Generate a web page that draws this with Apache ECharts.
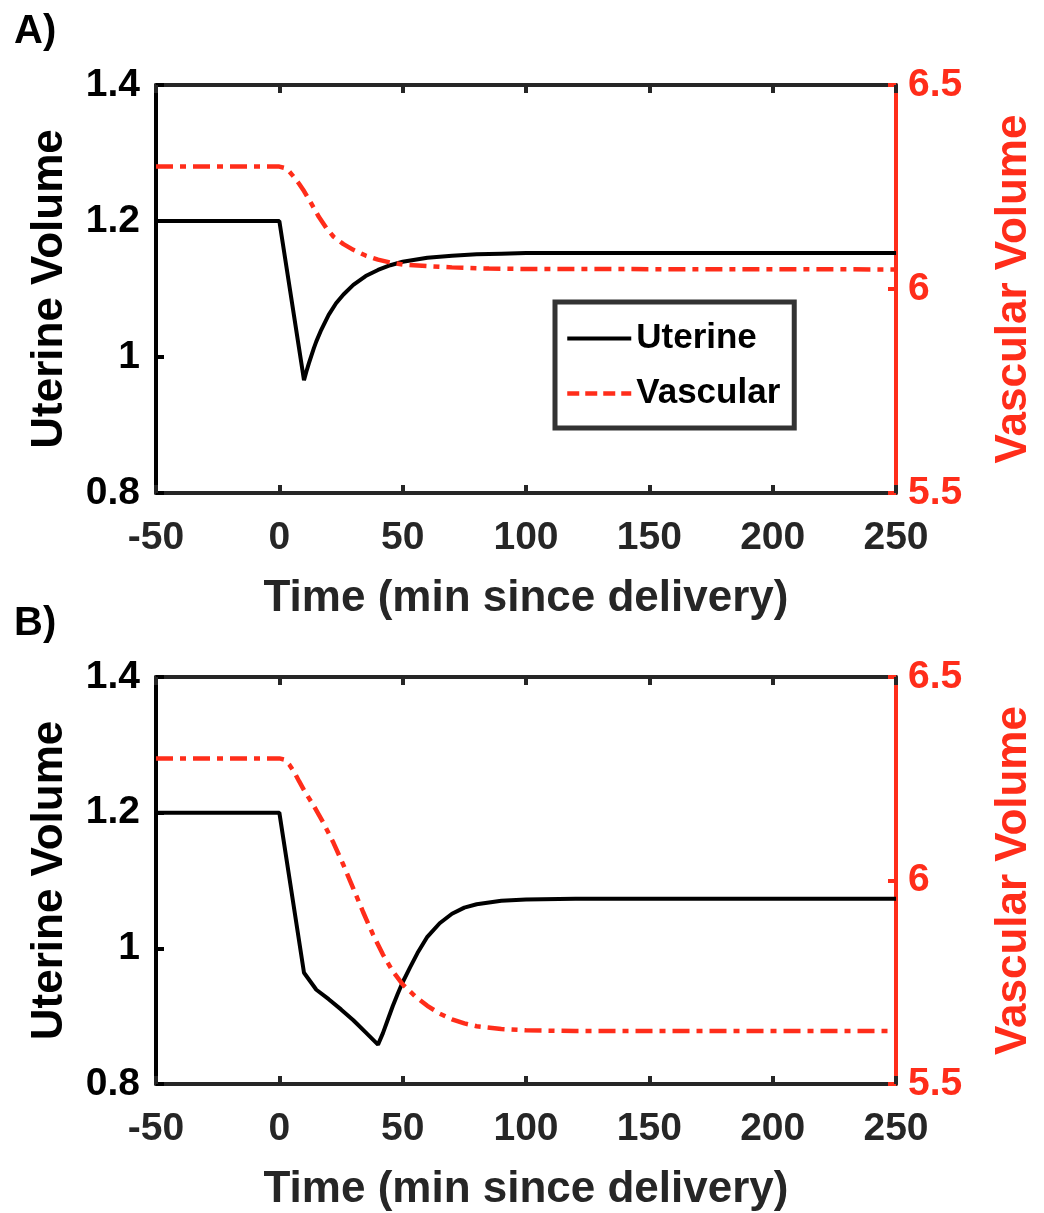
<!DOCTYPE html>
<html>
<head>
<meta charset="utf-8">
<title>Uterine and vascular volume</title>
<script src="https://cdn.jsdelivr.net/npm/echarts@6/dist/echarts.min.js"></script>
<style>
  html, body { margin: 0; padding: 0; background: #fff; }
  #chart { width: 1044px; height: 1213px; }
</style>
</head>
<body>
<div id="chart"></div>
<script>
// panel A: uterine volume (left axis)
const timeUterineA = [-50, 0, 10, 11, 12, 13, 14, 15, 17, 20, 23, 26, 30, 35, 40, 45, 50, 55, 60, 70, 80, 90, 100, 250]
const uterineA = [1.2, 1.2, 0.966, 0.979, 0.991, 1.002, 1.013, 1.023, 1.04, 1.062, 1.079, 1.092, 1.106, 1.119, 1.128, 1.135, 1.14, 1.143, 1.146, 1.149, 1.151, 1.152, 1.153, 1.153]
// panel A: vascular volume (right axis)
const timeVascularA = [-50, 0, 2, 4, 6, 8, 10, 13, 16, 19, 22, 26, 30, 35, 40, 45, 50, 60, 70, 85, 100, 250]
const vascularA = [6.30, 6.30, 6.297, 6.288, 6.274, 6.258, 6.24, 6.209, 6.177, 6.15, 6.128, 6.11, 6.096, 6.082, 6.072, 6.065, 6.06, 6.056, 6.053, 6.05, 6.049, 6.048]

// panel B
const timeUterineB = [-50, 0, 10, 15, 20, 25, 30, 35, 40, 42, 44, 46, 48, 50, 53, 56, 60, 65, 70, 75, 80, 90, 100, 120, 250]
const uterineB = [1.2, 1.2, 0.964, 0.939, 0.925, 0.91, 0.894, 0.876, 0.858, 0.875, 0.895, 0.915, 0.933, 0.95, 0.972, 0.993, 1.017, 1.037, 1.051, 1.06, 1.065, 1.07, 1.072, 1.073, 1.073]
const timeVascularB = [-50, 0, 2, 4, 6, 8, 10, 14, 18, 22, 26, 30, 34, 38, 42, 46, 50, 55, 60, 65, 70, 75, 80, 90, 100, 120, 250]
const vascularB = [6.30, 6.30, 6.297, 6.285, 6.267, 6.244, 6.222, 6.183, 6.14, 6.092, 6.038, 5.98, 5.922, 5.867, 5.818, 5.777, 5.745, 5.716, 5.692, 5.673, 5.659, 5.649, 5.642, 5.635, 5.632, 5.63, 5.63]

const panelLabels = ['A)', 'B)']
const seriesNames = ['Uterine', 'Vascular']

const FONT = "'Liberation Sans', Arial, sans-serif"
const GRAY = '#262626'
const RED = '#ff2d1a'
const panelTops = [85, 677]
const panelHeights = [408, 410]
const vascularDash = [17, 7, 6, 7]

let zip = (xs, ys) => xs.map((x, i) => [x, ys[i]])

let xAxisFor = (grid, pos) => ({
  type: 'value',
  gridIndex: grid,
  position: pos,
  min: -50,
  max: 250,
  interval: 50,
  name: pos === 'bottom' ? 'Time (min since delivery)' : '',
  nameLocation: 'middle',
  nameGap: 84,
  nameTextStyle: { fontFamily: FONT, fontWeight: 'bold', fontSize: 44, color: GRAY },
  axisLine: { show: true, onZero: false, lineStyle: { color: GRAY, width: 4 } },
  axisTick: { show: true, inside: true, length: 8, lineStyle: { color: GRAY, width: 4 } },
  axisLabel: {
    show: pos === 'bottom',
    margin: 26,
    fontFamily: FONT, fontWeight: 'bold', fontSize: 39, color: GRAY
  },
  splitLine: { show: false }
})

let yLeftFor = grid => ({
  type: 'value',
  gridIndex: grid,
  position: 'left',
  min: 0.8,
  max: 1.4,
  interval: 0.2,
  name: 'Uterine Volume',
  nameLocation: 'middle',
  nameRotate: 90,
  nameGap: 84,
  nameTextStyle: { fontFamily: FONT, fontWeight: 'bold', fontSize: 44, color: '#000' },
  axisLine: { show: true, onZero: false, lineStyle: { color: '#000', width: 4 } },
  axisTick: { show: true, inside: true, length: 8, lineStyle: { color: '#000', width: 4 } },
  axisLabel: { margin: 16, fontFamily: FONT, fontWeight: 'bold', fontSize: 39, color: '#000' },
  splitLine: { show: false }
})

let yRightFor = grid => ({
  type: 'value',
  gridIndex: grid,
  position: 'right',
  min: 5.5,
  max: 6.5,
  interval: 0.5,
  name: 'Vascular Volume',
  nameLocation: 'middle',
  nameRotate: 90,
  nameGap: 96,
  nameTextStyle: { fontFamily: FONT, fontWeight: 'bold', fontSize: 44, color: RED },
  axisLine: { show: true, onZero: false, lineStyle: { color: RED, width: 4 } },
  axisTick: { show: true, inside: true, length: 8, lineStyle: { color: RED, width: 4 } },
  axisLabel: { margin: 12, fontFamily: FONT, fontWeight: 'bold', fontSize: 39, color: RED },
  splitLine: { show: false }
})

let uterineSeries = (grid, data) => ({
  name: seriesNames[0],
  type: 'line',
  xAxisIndex: grid * 2,
  yAxisIndex: grid * 2,
  data: data,
  showSymbol: false,
  symbol: 'none',
  animation: false,
  lineStyle: { color: '#000', width: 4 },
  itemStyle: { color: '#000' },
  z: 3
})

let vascularSeries = (grid, data) => ({
  name: seriesNames[1],
  type: 'line',
  xAxisIndex: grid * 2,
  yAxisIndex: grid * 2 + 1,
  data: data,
  showSymbol: false,
  symbol: 'none',
  animation: false,
  lineStyle: { color: RED, width: 4.5, type: vascularDash },
  itemStyle: { color: RED },
  z: 4
})

let chart = echarts.init(document.getElementById('chart'), null, { renderer: 'canvas' })

chart.setOption({
  backgroundColor: '#fff',
  animation: false,
  grid: panelTops.map((top, i) => ({
    left: 156, top: top, width: 751, height: panelHeights[i],
    show: false, containLabel: false
  })),
  xAxis: [xAxisFor(0, 'bottom'), xAxisFor(0, 'top'), xAxisFor(1, 'bottom'), xAxisFor(1, 'top')],
  yAxis: [yLeftFor(0), yRightFor(0), yLeftFor(1), yRightFor(1)],
  legend: {
    // only panel A carries a legend; symbols hidden so only the line sample shows
    data: [
      { name: seriesNames[0], itemStyle: { opacity: 0 }, lineStyle: { color: '#000', width: 4 } },
      { name: seriesNames[1], itemStyle: { opacity: 0 }, lineStyle: { color: RED, width: 4.5, type: [12, 6] } }
    ],
    orient: 'vertical',
    left: 555,
    top: 302,
    padding: [19, 14, 17, 10],
    itemGap: 20,
    itemWidth: 64,
    itemHeight: 20,
    backgroundColor: '#fff',
    borderColor: '#333',
    borderWidth: 5,
    textStyle: { fontFamily: FONT, fontWeight: 'bold', fontSize: 35, color: '#000' },
    selectedMode: false
  },
  graphic: panelLabels.map((label, i) => ({
    type: 'text',
    left: 14,
    top: 12 + (panelTops[i] - panelTops[0]),
    style: { text: label, fontFamily: FONT, fontWeight: 'bold', fontSize: 40, fill: '#000' }
  })),
  series: [
    uterineSeries(0, zip(timeUterineA, uterineA)),
    vascularSeries(0, zip(timeVascularA, vascularA)),
    uterineSeries(1, zip(timeUterineB, uterineB)),
    vascularSeries(1, zip(timeVascularB, vascularB))
  ]
})
</script>
</body>
</html>
